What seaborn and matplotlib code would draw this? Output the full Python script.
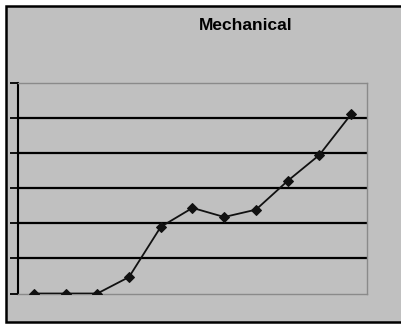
import matplotlib
matplotlib.use("Agg")
import matplotlib.pyplot as plt
import seaborn as sns
import pandas as pd
from matplotlib.patches import Rectangle

# Data (y in gridline units)
periods = list(range(1, 12))
values = [0.0, 0.0, 0.0, 0.47, 1.9, 2.44, 2.18, 2.39, 3.21, 3.95, 5.11]
title = "Mechanical"

df = pd.DataFrame({"period": periods, "value": values})

W, H = 402, 324
fig = plt.figure(figsize=(W / 100, H / 100), dpi=100)
fig.patch.set_facecolor("white")

# chart area with black border
fig.patches.append(Rectangle((6 / W, (H - 322) / H), (W + 10 - 6) / W, (322 - 6) / H,
                             transform=fig.transFigure, facecolor="#c0c0c0",
                             edgecolor="black", linewidth=1.8, zorder=-10))

ax = fig.add_axes([18 / W, (H - 293.5) / H, (367 - 18) / W, (293.5 - 83) / H])
ax.set_facecolor("#c0c0c0")

sns.lineplot(data=df, x="period", y="value", ax=ax, color="#111111", linewidth=1.3,
             marker="D", markersize=5.5, markeredgecolor="#111111", zorder=5)

ax.set_xlim(periods[0] - 0.5, periods[-1] + 0.5)
ax.set_ylim(0, 6)
ax.set_yticks(range(0, 7))
ax.set_yticklabels([])
ax.set_xticks([])
ax.set_xlabel("")
ax.set_ylabel("")

ax.grid(axis="y", color="black", linewidth=1.6)
gl = ax.get_ygridlines()
gl[0].set_visible(False)
gl[-1].set_visible(False)

for s in ["top", "right", "bottom"]:
    ax.spines[s].set_color("#8a8a8a")
    ax.spines[s].set_linewidth(1.0)
ax.spines["left"].set_color("black")
ax.spines["left"].set_linewidth(1.5)
ax.tick_params(axis="y", direction="out", length=6, width=1.3, color="black")

fig.text(245.5 / W, 1 - 25 / H, title, ha="center", va="center",
         fontsize=12.5, fontweight="bold", family="Liberation Sans")

fig.savefig("out.png", dpi=100, facecolor=fig.get_facecolor())
